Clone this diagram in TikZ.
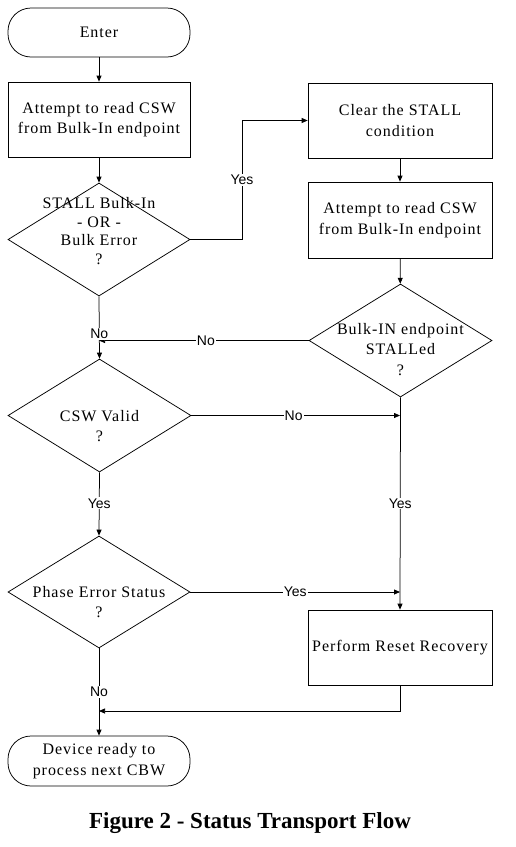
\documentclass[tikz,border=0pt]{standalone}
\usepackage{fontspec}
\setmainfont{Liberation Serif}[LetterSpace=6]
\newfontfamily\lblfont{Liberation Sans}
\newfontfamily\capfont{Liberation Serif}
\usetikzlibrary{shapes.geometric,arrows.meta}
\tikzset{
  boxtext/.style={font=\fontsize{16}{20.5}\selectfont, align=center, inner sep=0pt},
  procbox/.style={draw, boxtext, minimum width=184pt, minimum height=75pt},
  termbox/.style={draw, boxtext, rounded corners=23pt, minimum width=182pt, minimum height=49pt},
  decbox/.style={draw, diamond, inner sep=0pt, minimum width=182pt, minimum height=113pt},
  lbl/.style={font=\lblfont\fontsize{14}{14}\selectfont, fill=white, inner sep=1pt},
  arr/.style={-{Triangle[length=6pt,width=5pt]}},
}
\begin{document}
\begin{tikzpicture}[x=1pt,y=-1pt,line width=0.75pt]
\useasboundingbox (0,0) rectangle (516,847);
% nodes
\node[termbox] (enter) at (99,32.5) {Enter};
\node[procbox, minimum width=182pt] (b1) at (99,119.5) {Attempt to read CSW\\from Bulk-In endpoint};
\node[decbox] (d1) at (99,239.5) {};
\node[boxtext, font=\fontsize{16}{18.7}\selectfont] (d1t) at (99,231) {STALL Bulk-In\\- OR -\\Bulk Error\\?};
\node[procbox] (b2) at (400,120.5) {Clear the STALL\\condition};
\node[procbox, minimum height=76pt] (b3) at (400,220) {Attempt to read CSW\\from Bulk-In endpoint};
\node[decbox, minimum width=183pt] (d2) at (400.5,340.5) {};
\node[boxtext] (d2t) at (400.5,349.5) {Bulk-IN endpoint\\STALLed\\?};
\node[decbox, minimum width=183pt] (d3) at (99.5,415.5) {};
\node[boxtext] (d3t) at (99.5,426) {CSW Valid\\?};
\node[decbox, minimum height=112pt] (d4) at (99,592) {};
\node[boxtext] (d4t) at (99,602) {Phase Error Status\\?};
\node[procbox] (b4) at (400,647.5) {Perform Reset Recovery};
\node[termbox, minimum height=50pt] (endt) at (99,761) {Device ready to\\process next CBW};
\node[font=\capfont\bfseries\fontsize{23}{23}\selectfont, inner sep=0pt] (cap) at (250,823) {Figure 2 - Status Transport Flow};
% junction coordinates
\coordinate (yesbend) at (242,239.5);
\coordinate (m1) at (99,340.5);
\coordinate (m2) at (400,415.5);
\coordinate (m3) at (400,592);
\coordinate (rb) at (400,711);
\coordinate (m4) at (99,711);
% connectors
\draw[arr] (enter) -- (b1);
\draw[arr] (b1) -- (d1);
\draw[arr] (d1.east) -- (yesbend) |- node[lbl, pos=0.25] {Yes} (b2.west);
\draw[arr] (b2) -- (b3);
\draw[arr] (b3) -- (d2);
\draw[arr] (d2.west) -- node[lbl, pos=0.49] {No} (m1);
\draw[arr] (d1.south) -- node[lbl, pos=0.6] {No} (d3.north);
\draw[arr] (d3.east) -- node[lbl, pos=0.49] {No} (m2);
\draw[arr] (d2.south) -- node[lbl, pos=0.5] {Yes} (b4.north);
\draw[arr] (d3.south) -- node[lbl, pos=0.49] {Yes} (d4.north);
\draw[arr] (d4.east) -- node[lbl, pos=0.5] {Yes} (m3);
\draw[arr] (b4.south) -- (rb) -- (m4);
\draw[arr] (d4.south) -- node[lbl, pos=0.5] {No} (endt.north);
\end{tikzpicture}
\end{document}
